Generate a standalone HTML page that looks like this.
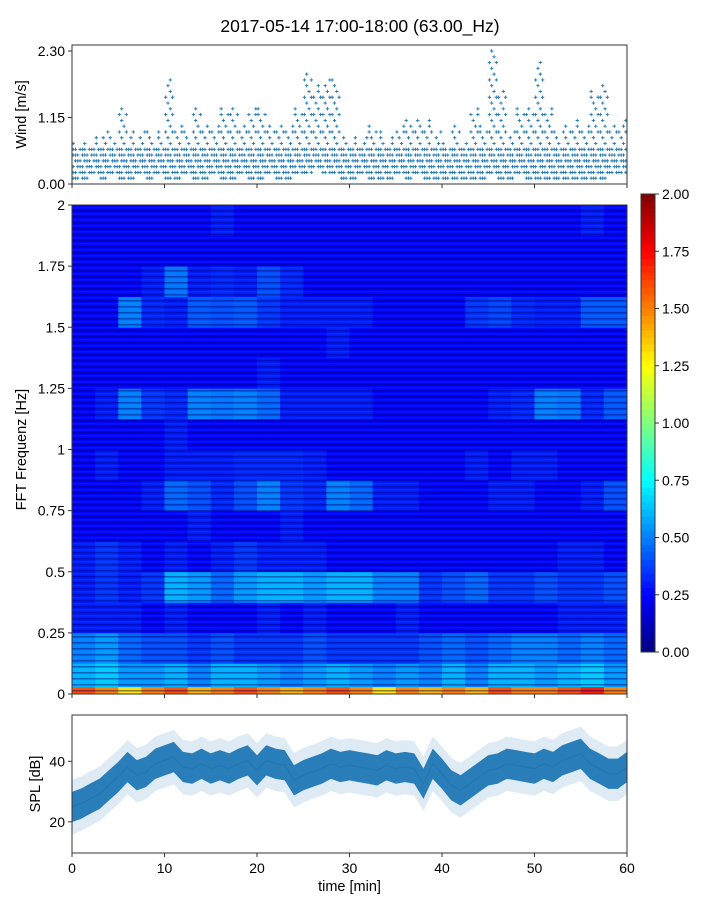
<!DOCTYPE html>
<html><head><meta charset="utf-8">
<style>
html,body{margin:0;padding:0;background:#fff;}
svg{display:block;font-family:"Liberation Sans","DejaVu Sans",sans-serif;}
</style></head>
<body>
<svg id="fig" width="720" height="900" viewBox="0 0 720 900">
<defs>
<pattern id="stripes" width="5" height="6" patternUnits="userSpaceOnUse">
<rect x="0" y="0" width="5" height="1.5" fill="#000070" opacity="0.45"/>
<rect x="0" y="3.5" width="5" height="0.8" fill="#30b0ff" opacity="0.22"/>
</pattern>
</defs>
<text x="360" y="32" font-size="17.5" text-anchor="middle">2017-05-14 17:00-18:00 (63.00_Hz)</text>
<g id="wind"></g>
<g id="spec"></g>
<g id="cbar"></g>
<g id="spl"></g>
</svg>
<script>
// ---------- data ----------
const windMinutes = Array.from({length:60},(_,i)=>i);
const windMax = [0.7,0.7,0.8,0.92,0.8,1.3,0.9,0.9,0.92,0.9,1.8,1.0,0.9,1.3,0.95,0.95,1.3,1.3,0.95,1.3,
 1.3,0.95,0.95,0.95,1.3,1.85,1.7,1.8,1.8,0.8,0.75,0.8,1.0,0.85,0.8,1.0,1.1,1.1,1.1,0.85,
 0.7,1.0,0.7,1.3,1.0,2.3,1.6,0.9,1.3,1.3,2.1,1.3,0.9,0.95,1.1,0.95,1.6,1.7,1.0,1.1];
const windMin = [0.1,0.1,0.2,0.1,0.2,0.1,0.1,0.2,0.1,0.2,0.1,0.1,0.2,0.1,0.1,0.2,0.1,0.1,0.2,0.1,
 0.1,0.2,0.1,0.1,0.2,0.2,0.3,0.2,0.2,0.1,0.1,0.2,0.1,0.1,0.1,0.2,0.1,0.2,0.1,0.1,
 0.1,0.1,0.1,0.1,0.1,0.2,0.1,0.1,0.2,0.1,0.1,0.1,0.1,0.1,0.1,0.1,0.1,0.1,0.2,0.2];
const windTicks = [0.00,1.15,2.30];

const splMinutes = Array.from({length:61},(_,i)=>i);
const splMean = [24.9,26.0,27.7,29.3,32.1,34.8,38.1,35.4,36.5,39.2,40.3,41.4,38.1,37.6,39.2,37.6,38.7,37.6,39.2,40.3,
 37.0,40.3,39.2,38.7,33.7,35.4,36.5,37.6,39.2,38.1,38.7,38.1,37.6,37.0,38.7,37.6,38.1,37.6,32.6,39.2,
 35.9,32.1,30.4,32.6,34.8,37.0,37.6,39.2,38.7,38.1,37.6,39.2,38.1,40.3,41.4,42.5,39.2,37.6,35.9,35.9,38.1];
const splHalfDark = 5;
const splHalfLight = 9;
const splTicks = [20,40];

const specFreqEdges = [0,0.03,0.125,0.25,0.375,0.5,0.625,0.75,0.875,1.0,1.125,1.25,1.375,1.5,1.625,1.75,1.875,2.0];
const specTimeStep = 2.5;
// rows bottom (0 Hz) to top (2 Hz), 24 columns of 2.5 min
const specRowA  = [1.6,1.5,1.3,1.5,1.6,1.4,1.5,1.6,1.5,1.4,1.5,1.6,1.5,1.3,1.5,1.4,1.5,1.4,1.6,1.5,1.5,1.6,1.7,1.5];
const specRow0  = [0.6,0.65,0.55,0.55,0.6,0.5,0.6,0.6,0.55,0.5,0.55,0.6,0.55,0.5,0.55,0.5,0.6,0.5,0.6,0.6,0.55,0.6,0.65,0.55];
const specRow1  = [0.5,0.55,0.45,0.4,0.4,0.35,0.4,0.35,0.35,0.35,0.4,0.35,0.35,0.35,0.35,0.4,0.45,0.4,0.45,0.5,0.5,0.45,0.5,0.45];
const specRow2  = [0.3,0.3,0.3,0.25,0.3,0.25,0.25,0.25,0.3,0.25,0.3,0.25,0.25,0.25,0.3,0.25,0.25,0.25,0.25,0.25,0.25,0.3,0.3,0.3];
const specRow3  = [0.3,0.35,0.3,0.35,0.6,0.55,0.45,0.55,0.6,0.6,0.55,0.6,0.6,0.5,0.5,0.35,0.4,0.45,0.35,0.35,0.4,0.35,0.35,0.4];
const specRow4  = [0.3,0.35,0.3,0.25,0.3,0.25,0.3,0.35,0.3,0.3,0.3,0.25,0.25,0.25,0.25,0.25,0.25,0.25,0.25,0.25,0.25,0.3,0.3,0.25];
const specRow5  = [0.25,0.25,0.25,0.25,0.25,0.3,0.25,0.25,0.25,0.3,0.25,0.25,0.25,0.25,0.25,0.25,0.25,0.25,0.25,0.25,0.25,0.25,0.25,0.25];
const specRow6  = [0.25,0.25,0.25,0.3,0.45,0.4,0.32,0.4,0.5,0.35,0.32,0.5,0.45,0.3,0.3,0.25,0.25,0.25,0.3,0.3,0.25,0.25,0.3,0.4];
const specRow7  = [0.25,0.3,0.25,0.25,0.3,0.3,0.3,0.32,0.32,0.32,0.3,0.25,0.25,0.25,0.25,0.25,0.25,0.3,0.25,0.3,0.3,0.25,0.25,0.25];
const specRow8  = [0.25,0.25,0.25,0.25,0.3,0.25,0.25,0.25,0.25,0.25,0.25,0.25,0.25,0.25,0.25,0.25,0.25,0.25,0.25,0.25,0.25,0.25,0.25,0.25];
const specRow9  = [0.25,0.3,0.5,0.35,0.32,0.5,0.48,0.5,0.45,0.3,0.3,0.3,0.3,0.25,0.25,0.25,0.25,0.25,0.3,0.32,0.5,0.48,0.32,0.42];
const specRow10 = [0.25,0.25,0.25,0.25,0.25,0.25,0.25,0.25,0.3,0.25,0.25,0.25,0.25,0.25,0.25,0.25,0.25,0.25,0.25,0.25,0.25,0.25,0.25,0.25];
const specRow11 = [0.25,0.25,0.25,0.25,0.25,0.25,0.25,0.25,0.25,0.25,0.25,0.3,0.25,0.25,0.25,0.25,0.25,0.25,0.25,0.25,0.25,0.25,0.25,0.25];
const specRow12 = [0.25,0.25,0.5,0.32,0.3,0.42,0.4,0.42,0.35,0.3,0.3,0.3,0.3,0.25,0.25,0.25,0.25,0.35,0.38,0.32,0.3,0.3,0.42,0.42];
const specRow13 = [0.25,0.25,0.25,0.3,0.48,0.3,0.32,0.3,0.4,0.32,0.25,0.25,0.25,0.25,0.25,0.25,0.25,0.25,0.25,0.25,0.25,0.25,0.25,0.25];
const specRow14 = [0.25,0.25,0.25,0.25,0.25,0.25,0.25,0.25,0.25,0.25,0.25,0.25,0.25,0.25,0.25,0.25,0.25,0.25,0.25,0.25,0.25,0.25,0.25,0.25];
const specRow15 = [0.25,0.25,0.25,0.25,0.25,0.25,0.3,0.25,0.25,0.25,0.25,0.25,0.25,0.25,0.25,0.25,0.25,0.25,0.25,0.25,0.25,0.25,0.3,0.25];
const specRows = [specRowA,specRow0,specRow1,specRow2,specRow3,specRow4,specRow5,specRow6,specRow7,specRow8,specRow9,specRow10,specRow11,specRow12,specRow13,specRow14,specRow15];
const specYTicks = [0,0.25,0.5,0.75,1,1.25,1.5,1.75,2];
const specYLabels = ["0","0.25","0.5","0.75","1","1.25","1.5","1.75","2"];
const cbarTicks = [0,0.25,0.5,0.75,1,1.25,1.5,1.75,2];
const cbarLabels = ["0.00","0.25","0.50","0.75","1.00","1.25","1.50","1.75","2.00"];
const timeTicks = [0,10,20,30,40,50,60];

// ---------- helpers ----------
const NS="http://www.w3.org/2000/svg";
function mk(parent,tag,attrs,text){const e=document.createElementNS(NS,tag);for(const k in attrs)e.setAttribute(k,attrs[k]);if(text!==undefined)e.textContent=text;parent.appendChild(e);return e;}
const X0=72,X1=627;
const xT=t=>X0+(t/60)*(X1-X0);
function jet(v){v=Math.max(0,Math.min(1,v));
 const r=Math.max(0,Math.min(1,1.5-Math.abs(4*v-3)));
 const g=Math.max(0,Math.min(1,1.5-Math.abs(4*v-2)));
 const b=Math.max(0,Math.min(1,1.5-Math.abs(4*v-1)));
 return `rgb(${Math.round(r*255)},${Math.round(g*255)},${Math.round(b*255)})`;}
const BLUE="#1f77b4";

function frame(g,y0,y1,name){
 const r=mk(g,'rect',{x:X0,y:y0,width:X1-X0,height:y1-y0,fill:'none',stroke:'#333','stroke-width':1});
 
 
}
function xticks(g,y1,labels){
 timeTicks.forEach(t=>{
  const l=mk(g,'line',{x1:xT(t),x2:xT(t),y1:y1,y2:y1+4,stroke:'#333'});
  
  
  if(labels){const tx=mk(g,'text',{x:xT(t),y:y1+20,'font-size':14,'text-anchor':'middle'},String(t));
   
   }
 });
}

// ---------- wind ----------
(function(){
 const g=document.getElementById('wind');
 const Y0=45,Y1=184, VMAX=2.3*(184-45)/(184-51);
 const yW=v=>Y1-(v/VMAX)*(Y1-Y0);
 windMinutes.forEach((m,i)=>{
  const J=4;
  for(let j=0;j<J;j++){
   const t=m+(j+0.5)/J;
   const kmin=Math.round(windMin[i]*10), kmax=Math.round(windMax[i]*10);
   for(let k=kmin;k<=kmax;k++){
    const v=k/10;
    const top=(k===kmax&&j===(i%J));
    if(!top){
     if(k>=kmax) continue;
     if(v>0.6 && (j+k)%3!==0) continue;
     if(v<=0.6 && (j*7+k*3)%4===0) continue;
    }
    const x=xT(t),y=yW(v);
    const p=mk(g,'path',{d:`M${x-1.7},${y}h3.4M${x},${y-1.7}v3.4`,stroke:BLUE,'stroke-width':0.9});
    
    
   }
  }
 });
 frame(g,Y0,Y1,'wind-axes-frame');
 windTicks.forEach(v=>{
  mk(g,'line',{x1:X0-4,x2:X0,y1:yW(v),y2:yW(v),stroke:'#333'});
  const t=mk(g,'text',{x:X0-7,y:yW(v)+5,'font-size':14,'text-anchor':'end'},v.toFixed(2));
  
  
 });
 xticks(g,Y1,false);
 const yl=mk(g,'text',{x:0,y:0,'font-size':14.5,'text-anchor':'middle',transform:`translate(26,${(Y0+Y1)/2}) rotate(-90)`},'Wind [m/s]');
 
 
})();

// ---------- spectrogram ----------
(function(){
 const g=document.getElementById('spec');
 const Y0=205,Y1=694;
 const yF=f=>Y1-(f/2)*(Y1-Y0);
 specRows.forEach((row,ri)=>{
  row.forEach((v,ci)=>{
   const x=xT(ci*specTimeStep), w=xT((ci+1)*specTimeStep)-x;
   const y=yF(specFreqEdges[ri+1]), h=yF(specFreqEdges[ri])-y;
   const c=mk(g,'rect',{x:x,y:y,width:w+0.4,height:h+0.4,fill:jet(v/2)});
   
   
  });
 });
 const tex=mk(g,'rect',{x:X0,y:Y0,width:X1-X0,height:Y1-Y0,fill:'url(#stripes)'});
 
 
 frame(g,Y0,Y1,'spectrogram-axes-frame');
 specYTicks.forEach((f,i)=>{
  mk(g,'line',{x1:X0-4,x2:X0,y1:yF(f),y2:yF(f),stroke:'#333'});
  const t=mk(g,'text',{x:X0-7,y:yF(f)+5,'font-size':14,'text-anchor':'end'},specYLabels[i]);
  
  
 });
 xticks(g,Y1,false);
 const yl=mk(g,'text',{x:0,y:0,'font-size':14.5,'text-anchor':'middle',transform:`translate(26,${(Y0+Y1)/2}) rotate(-90)`},'FFT Frequenz [Hz]');
 
 
})();

// ---------- colorbar ----------
(function(){
 const g=document.getElementById('cbar');
 const CX=641,CW=14,CY0=194,CY1=652;
 const yC=v=>CY1-(v/2)*(CY1-CY0);
 const n=64;
 for(let i=0;i<n;i++){
  const v0=2*i/n,v1=2*(i+1)/n;
  const r=mk(g,'rect',{x:CX,y:yC(v1),width:CW,height:yC(v0)-yC(v1)+0.5,fill:jet((i+0.5)/n)});
  
  
 }
 mk(g,'rect',{x:CX,y:CY0,width:CW,height:CY1-CY0,fill:'none',stroke:'#333'});
 cbarTicks.forEach((v,i)=>{
  mk(g,'line',{x1:CX+CW,x2:CX+CW+4,y1:yC(v),y2:yC(v),stroke:'#333'});
  const t=mk(g,'text',{x:CX+CW+7,y:yC(v)+5,'font-size':14},cbarLabels[i]);
  
  
 });
})();

// ---------- SPL ----------
(function(){
 const g=document.getElementById('spl');
 const Y0=715,Y1=853, VMIN=9.7, VMAX=55.3;
 const yS=v=>Y1-((v-VMIN)/(VMAX-VMIN))*(Y1-Y0);
 function band(h,op,name){
  let d='';
  splMinutes.forEach((m,i)=>{d+=(i?'L':'M')+xT(m)+','+yS(splMean[i]+h);});
  for(let i=splMinutes.length-1;i>=0;i--) d+='L'+xT(splMinutes[i])+','+yS(splMean[i]-h);
  const p=mk(g,'path',{d:d+'Z',fill:BLUE,opacity:op});
  
  
 }
 band(splHalfLight,0.15,'spl-range-band');
 band(splHalfDark,0.95,'spl-core-band');
 let d='';
 splMinutes.forEach((m,i)=>{d+=(i?'L':'M')+xT(m)+','+yS(splMean[i]);});
 const ln=mk(g,'path',{d:d,fill:'none',stroke:BLUE,'stroke-width':1});
 
 
 frame(g,Y0,Y1,'spl-axes-frame');
 splTicks.forEach(v=>{
  mk(g,'line',{x1:X0-4,x2:X0,y1:yS(v),y2:yS(v),stroke:'#333'});
  const t=mk(g,'text',{x:X0-7,y:yS(v)+5,'font-size':14,'text-anchor':'end'},String(v));
  
  
 });
 xticks(g,Y1,true);
 const xl=mk(g,'text',{x:(X0+X1)/2,y:891,'font-size':14.5,'text-anchor':'middle'},'time [min]');
 
 
 const yl=mk(g,'text',{x:0,y:0,'font-size':14.5,'text-anchor':'middle',transform:`translate(40,${(Y0+Y1)/2}) rotate(-90)`},'SPL [dB]');
 
 
})();
</script>
</body></html>
